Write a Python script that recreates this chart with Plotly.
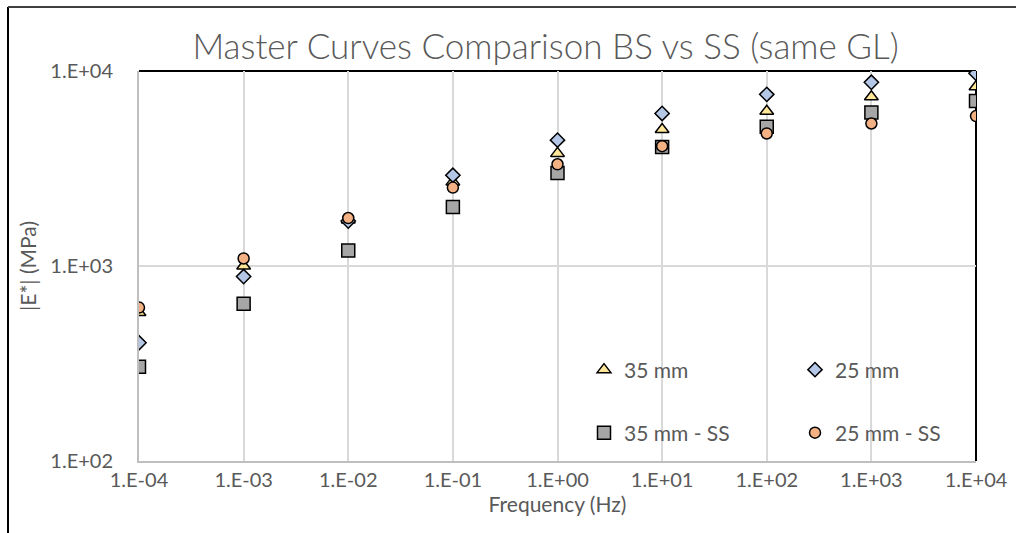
import plotly.graph_objects as go

freq = [1e-4, 1e-3, 1e-2, 1e-1, 1e0, 1e1, 1e2, 1e3, 1e4]
e_35mm = [577, 1000, 1720, 2700, 3780, 5010, 6220, 7380, 8300]
e_25mm = [404, 883, 1700, 2920, 4420, 6060, 7590, 8750, 9730]
e_35mm_ss = [304, 641, 1200, 2006, 3000, 4080, 5170, 6130, 7010]
e_25mm_ss = [612, 1093, 1762, 2524, 3324, 4115, 4783, 5380, 5870]

x_tickvals = [1e-4, 1e-3, 1e-2, 1e-1, 1e0, 1e1, 1e2, 1e3, 1e4]
x_ticktext = ["1.E-04", "1.E-03", "1.E-02", "1.E-01", "1.E+00", "1.E+01", "1.E+02", "1.E+03", "1.E+04"]
y_tickvals = [100, 1000, 10000]
y_ticktext = ["1.E+02", "1.E+03", "1.E+04"]

FONT = "Lato"
GRAY = "#595959"

fig = go.Figure()
fig.add_trace(go.Scatter(x=freq, y=e_35mm, mode="markers", name="35 mm", legend="legend",
                         marker=dict(symbol="triangle-up", size=12, color="#FFE699",
                                     line=dict(color="black", width=1.5))))
fig.add_trace(go.Scatter(x=freq, y=e_25mm, mode="markers", name="25 mm", legend="legend",
                         marker=dict(symbol="diamond", size=11, color="#B4C7E7",
                                     line=dict(color="black", width=1.5))))
fig.add_trace(go.Scatter(x=freq, y=e_35mm_ss, mode="markers", name="35 mm - SS", legend="legend2",
                         marker=dict(symbol="square", size=13, color="#A6A6A6",
                                     line=dict(color="black", width=1.5))))
fig.add_trace(go.Scatter(x=freq, y=e_25mm_ss, mode="markers", name="25 mm - SS", legend="legend2",
                         marker=dict(symbol="circle", size=11, color="#F4B183",
                                     line=dict(color="black", width=1.5))))

L, R, T, B = 139, 40, 71, 72
W, H = 1016, 533
pw = W - L - R
ph = H - T - B

def px(xp):
    return (xp - L) / pw

def py(yp):
    return (H - B - yp) / ph

legend_common = dict(orientation="h", bgcolor="rgba(0,0,0,0)", borderwidth=0,
                     font=dict(family=FONT, size=21, color=GRAY),
                     entrywidth=166, entrywidthmode="pixels",
                     xanchor="left", yanchor="middle", itemclick=False)

fig.update_layout(
    width=W, height=H,
    margin=dict(l=L, r=R, t=T, b=B, autoexpand=False),
    paper_bgcolor="white", plot_bgcolor="white",
    title=dict(text="Master Curves Comparison BS vs SS (same GL)",
               font=dict(family=FONT, size=35, color=GRAY, weight=300),
               x=0.537, xanchor="center", y=1 - 47 / H, yanchor="middle"),
    xaxis=dict(type="log", range=[-4, 4], tickvals=x_tickvals, ticktext=x_ticktext,
               showgrid=True, gridcolor="#D9D9D9", gridwidth=2,
               showline=True, linecolor="#BFBFBF", linewidth=2,
               ticks="", ticklabelstandoff=0, tickfont=dict(family=FONT, size=20, color=GRAY),
               title=dict(text="Frequency (Hz)", font=dict(family=FONT, size=21, color=GRAY),
                          standoff=2),
               zeroline=False, automargin=False),
    yaxis=dict(type="log", range=[2, 4], tickvals=y_tickvals, ticktext=y_ticktext,
               showgrid=True, gridcolor="#D9D9D9", gridwidth=2,
               showline=True, linecolor="#BFBFBF", linewidth=2,
               ticks="", ticklabelstandoff=20, tickfont=dict(family=FONT, size=20, color=GRAY),
               title=dict(text="|E*| (MPa)", font=dict(family=FONT, size=21, color=GRAY),
                          standoff=8),
               zeroline=False, automargin=False),
    legend=dict(x=px(584), y=py(370), **legend_common),
    legend2=dict(x=px(584), y=py(433), **legend_common),
    showlegend=True,
    shapes=[
        dict(type="line", xref="paper", yref="paper", x0=0, x1=1, y0=1, y1=1,
             line=dict(color="black", width=2), layer="below"),
        dict(type="line", xref="paper", yref="paper", x0=1, x1=1, y0=0, y1=1,
             line=dict(color="black", width=2), layer="below"),
        dict(type="line", xref="paper", yref="paper", x0=px(8), x1=px(8), y0=py(533), y1=py(7),
             line=dict(color="black", width=2)),
        dict(type="line", xref="paper", yref="paper", x0=px(8), x1=px(1016), y0=py(7), y1=py(7),
             line=dict(color="#404040", width=2)),
    ],
)

fig.write_html("out.html")
